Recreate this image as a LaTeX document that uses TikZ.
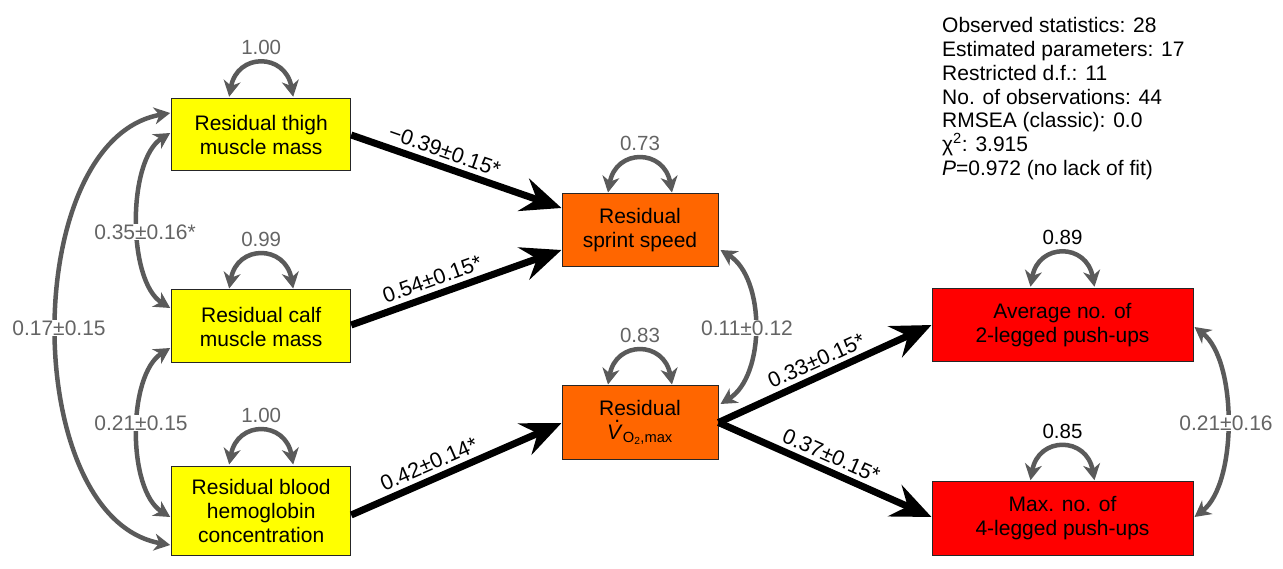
\documentclass[tikz,border=0pt]{standalone}
\usepackage{fontspec}
\setmainfont{Liberation Sans}
\usetikzlibrary{arrows.meta}
\definecolor{yfill}{RGB}{255,255,0}
\definecolor{ofill}{RGB}{255,102,0}
\definecolor{rfill}{RGB}{255,0,0}
\definecolor{agray}{RGB}{90,90,90}
\definecolor{lgray}{RGB}{100,100,100}
\newcommand{\vdotV}{\textit{V}\llap{\raisebox{0.82em}{.}\hspace{0.12em}}}
\begin{document}
\begin{tikzpicture}[x=1pt,y=-1pt,
 box/.style={draw=black!85, line width=1pt, inner sep=0pt, align=center, font=\fontsize{21}{24}\selectfont},
 leftbox/.style={box, fill=yfill, minimum width=179pt},
 midbox/.style={box, fill=ofill, minimum width=156pt, minimum height=73pt},
 rightbox/.style={box, fill=rfill, minimum width=261pt, minimum height=73.5pt},
 effect/.style={line width=7pt, -{Stealth[length=40pt,width=34pt,inset=14pt]}},
 cov/.style={draw=agray, line width=4.5pt, {Stealth[length=16pt,width=17pt,inset=5pt]}-{Stealth[length=16pt,width=17pt,inset=5pt]}},
 covlab/.style={fill=white, text=lgray, inner sep=1pt, font=\fontsize{21}{24}\selectfont},
 elab/.style={font=\fontsize{21.5}{24}\selectfont, sloped, above=4pt, inner sep=0.5pt},
 vlab/.style={text=lgray, font=\fontsize{20.5}{24}\selectfont},
 vlabk/.style={text=black, font=\fontsize{20.5}{24}\selectfont},
]
\useasboundingbox (0,0) rectangle (1283,569);

% boxes
\node[leftbox, minimum height=72.5pt] (thigh) at (261.2,134.5) {Residual thigh\\muscle mass};
\node[leftbox, minimum height=73pt] (calf) at (261.2,326.5) {Residual calf\\muscle mass};
\node[leftbox, minimum height=89pt] (blood) at (261.2,510.5) {Residual blood\\hemoglobin\\concentration};
\node[midbox] (sprint) at (640,230.5) {Residual\\sprint speed};
\node[midbox] (vo2) at (640,422.5) {Residual\\\vdotV\textsubscript{O\textsubscript{2},max}};
\node[rightbox] (avg) at (1062.5,325) {Average no. of\\2-legged push-ups};
\node[rightbox] (mx) at (1062.5,518.5) {Max. no. of\\4-legged push-ups};

% stats
\node[anchor=north west, inner sep=0pt, align=left, font=\fontsize{21}{23.7}\selectfont] (stats) at (942,17.5)
 {Observed statistics: 28\\Estimated parameters: 17\\Restricted d.f.: 11\\No. of observations: 44\\RMSEA (classic): 0.0\\χ\textsuperscript{2}: 3.915\\\textit{P}=0.972 (no lack of fit)};

% variance loops
\foreach \n/\v/\st in {thigh/1.00/vlab, calf/0.99/vlab, blood/1.00/vlab, sprint/0.73/vlab, vo2/0.83/vlab, avg/0.89/vlabk, mx/0.85/vlabk}{
 \draw[cov] ([xshift=-32pt,yshift=1pt]\n.north) .. controls +(8,-44) and +(-8,-44) .. ([xshift=32pt,yshift=1pt]\n.north);
 \node[\st] (v\n) at ([yshift=50pt]\n.north) {\v};
}

% effects
\draw[effect] ([yshift=-0.5pt]thigh.east) -- node[elab,pos=0.42] (e1) {−0.39±0.15*} ([yshift=22.5pt]sprint.west);
\draw[effect] ([yshift=1.5pt]calf.east) -- node[elab,pos=0.41] (e2) {0.54±0.15*} ([yshift=-19.5pt]sprint.west);
\draw[effect] ([yshift=-4.5pt]blood.east) -- node[elab,pos=0.40] (e3) {0.42±0.14*} ([yshift=-0.5pt]vo2.west);
\draw[effect] (vo2.east) -- node[elab,pos=0.49] (e4) {0.33±0.15*} (avg.west);
\draw[effect] (vo2.east) -- node[elab,pos=0.50] (e5) {0.37±0.15*} ([yshift=1.5pt]mx.west);

% covariances
\draw[cov] ([xshift=-1pt,yshift=1.5pt]thigh.west) .. controls +(-43,27) and +(-43,-27) .. ([xshift=-1pt,yshift=18.5pt]calf.west);
\draw[cov] ([xshift=-1pt,yshift=-21.5pt]calf.west) .. controls +(-43,27) and +(-43,-27) .. ([xshift=-1pt,yshift=-6.5pt]blood.west);
\draw[cov] ([xshift=-1pt,yshift=21.5pt]thigh.west) .. controls +(-151,27) and +(-151,-27) .. ([xshift=-1pt,yshift=-34.5pt]blood.west);
\draw[cov] ([xshift=2pt,yshift=-19.5pt]sprint.east) .. controls +(45,28) and +(45,-28) .. ([xshift=2pt,yshift=18.5pt]vo2.east);
\draw[cov] ([xshift=1pt,yshift=-2pt]avg.east) .. controls +(43,33) and +(43,-33) .. ([xshift=1pt,yshift=1.5pt]mx.east);

\node[covlab] (c1) at (145,232) {0.35±0.16*};
\node[covlab] (c2) at (141,423) {0.21±0.15};
\node[covlab] (c3) at (59,328) {0.17±0.15};
\node[covlab] (c4) at (747,328) {0.11±0.12};
\node[covlab] (c5) at (1226,423) {0.21±0.16};
\end{tikzpicture}
\end{document}
